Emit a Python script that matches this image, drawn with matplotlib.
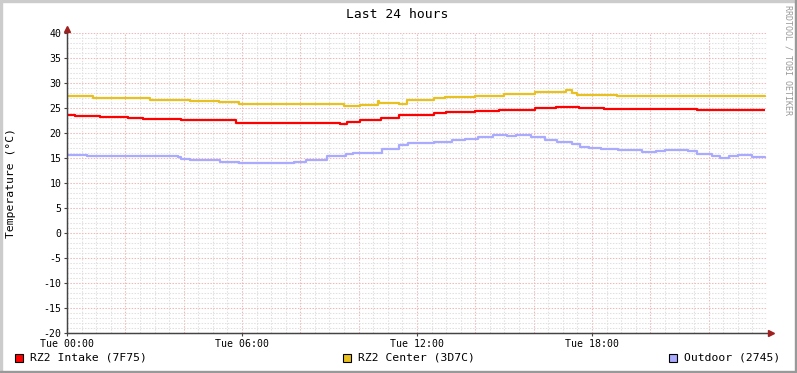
import matplotlib
matplotlib.use("Agg")
import matplotlib.pyplot as plt
from matplotlib.patches import Rectangle
from matplotlib.lines import Line2D
import numpy as np

# hours since Tue 00:00
intake_t = [0, 0.27, 1.13, 2.1, 2.6, 3.9, 5.8, 9.35, 9.5, 9.6, 10.05, 10.75, 11.4,
            12.6, 13.0, 14.0, 14.8, 16.05, 16.75, 17.55, 18.4, 21.6, 23.93]
intake_v = [23.7, 23.5, 23.3, 23.0, 22.8, 22.6, 22.1, 21.9, 21.8, 22.2, 22.6, 23.1, 23.7,
            24.0, 24.3, 24.5, 24.7, 25.0, 25.2, 25.0, 24.8, 24.7, 24.7]

center_t = [0, 0.9, 2.85, 4.2, 5.2, 5.9, 9.5, 10.05, 10.65, 10.7, 11.4, 11.65, 12.6,
            12.95, 14.0, 15.0, 16.05, 17.1, 17.3, 17.5, 18.85, 21.7, 23.93]
center_v = [27.4, 27.0, 26.6, 26.5, 26.2, 25.9, 25.4, 25.7, 26.5, 26.1, 25.9, 26.6, 27.0,
            27.3, 27.4, 27.9, 28.3, 28.6, 28.0, 27.7, 27.4, 27.4, 27.3]

outdoor_t = [0, 0.7, 3.8, 3.9, 4.2, 5.25, 5.9, 7.3, 7.8, 8.2, 8.9, 9.55, 9.8, 10.8,
             11.4, 11.7, 12.6, 13.2, 13.65, 14.1, 14.6, 15.1, 15.4, 15.9, 16.4, 16.8,
             17.3, 17.6, 17.9, 18.3, 18.9, 19.7, 20.2, 20.5, 21.3, 21.6, 22.1, 22.4,
             22.7, 23.0, 23.5, 23.93]
outdoor_v = [15.6, 15.4, 15.3, 14.8, 14.6, 14.3, 14.1, 14.1, 14.3, 14.7, 15.4, 15.9, 16.1, 16.8,
             17.6, 18.0, 18.2, 18.6, 18.9, 19.3, 19.6, 19.4, 19.7, 19.3, 18.7, 18.2,
             17.8, 17.3, 17.0, 16.8, 16.6, 16.3, 16.4, 16.6, 16.5, 15.9, 15.5, 15.0,
             15.4, 15.6, 15.3, 15.0]

series = [
    ("RZ2 Intake (7F75)", intake_t, intake_v, "#ff0000"),
    ("RZ2 Center (3D7C)", center_t, center_v, "#e8c020"),
    ("Outdoor (2745)", outdoor_t, outdoor_v, "#aaaaff"),
]
xticks = [0, 6, 12, 18]
xlabels = ["Tue 00:00", "Tue 06:00", "Tue 12:00", "Tue 18:00"]
yticks = list(range(-20, 41, 5))

mono = "DejaVu Sans Mono"
W, H = 797, 373
fig = plt.figure(figsize=(W / 100, H / 100), dpi=100, facecolor="white")
ax = fig.add_axes([67 / W, 1 - 333 / H, 700 / W, 300 / H])
ax.set_facecolor("white")

# grid
for h in np.arange(0, 24.01, 0.5):
    major = abs(h / 2 - round(h / 2)) < 1e-9
    ax.axvline(h, color="#f0b8b8" if major else "#e0e0e0", lw=0.75,
               ls=(0, (1.4, 1.4)), zorder=0)
for v in range(-20, 41):
    major = v % 5 == 0
    ax.axhline(v, color="#f0b8b8" if major else "#e0e0e0", lw=0.75,
               ls=(0, (1.4, 1.4)), zorder=0)

for name, t, v, c in series:
    ax.plot(t, v, color=c, lw=1.6, drawstyle="steps-post", zorder=3,
            solid_capstyle="butt")

ax.set_xlim(0, 24)
ax.set_ylim(-20, 40)
ax.set_xticks(xticks)
ax.set_xticklabels(xlabels, fontfamily=mono, fontsize=7.1)
ax.set_yticks(yticks)
ax.set_yticklabels([str(y) for y in yticks], fontfamily=mono, fontsize=7.1)
ax.tick_params(axis="both", length=2.5, width=0.8, color="#444444", pad=1.5)
for s in ["top", "right"]:
    ax.spines[s].set_visible(False)
for s in ["left", "bottom"]:
    ax.spines[s].set_color("#444444")
    ax.spines[s].set_linewidth(0.9)
    ax.spines[s].set_zorder(4)

# axis extensions + arrow heads
fig.add_artist(Line2D([67 / W, 67 / W], [1 - 333 / H, 1 - 28 / H], color="#444444", lw=0.9))
fig.add_artist(Line2D([67 / W, 772 / W], [1 - 333 / H, 1 - 333 / H], color="#444444", lw=0.9))
fig.add_artist(Line2D([67 / W], [1 - 29 / H], marker="^", ms=5, color="#a02020", lw=0))
fig.add_artist(Line2D([771 / W], [1 - 333 / H], marker=">", ms=5, color="#a02020", lw=0))

fig.text(397 / W, 1 - 14 / H, "Last 24 hours", ha="center", va="center",
         fontfamily=mono, fontsize=9.4)
fig.text(11 / W, 1 - 183 / H, "Temperature (°C)", ha="center", va="center",
         rotation=90, fontfamily=mono, fontsize=8.2)
fig.text(788 / W, 1 - 60 / H, "RRDTOOL / TOBI OETIKER", ha="center", va="center",
         rotation=-90, fontfamily=mono, fontsize=6, color="#999999")

# legend
legend_x = [15, 343, 669]
for (name, t, v, c), lx in zip(series, legend_x):
    fig.patches.append(Rectangle((lx / W, 1 - 362 / H), 8 / W, 8 / H, facecolor=c,
                                 edgecolor="black", lw=0.8, transform=fig.transFigure))
    fig.text((lx + 15) / W, 1 - 358 / H, name, ha="left", va="center",
             fontfamily=mono, fontsize=8.2)

# 3D frame
light, dark = "#cccccc", "#999999"
fig.patches.append(Rectangle((0, 1 - 2 / H), 1, 2 / H, color=light, transform=fig.transFigure))
fig.patches.append(Rectangle((0, 0), 2 / W, 1, color=light, transform=fig.transFigure))
fig.patches.append(Rectangle((0, 0), 1, 2 / H, color=dark, transform=fig.transFigure))
fig.patches.append(Rectangle((1 - 2 / W, 0), 2 / W, 1, color=dark, transform=fig.transFigure))

fig.savefig("out.png", dpi=100, facecolor="white")
